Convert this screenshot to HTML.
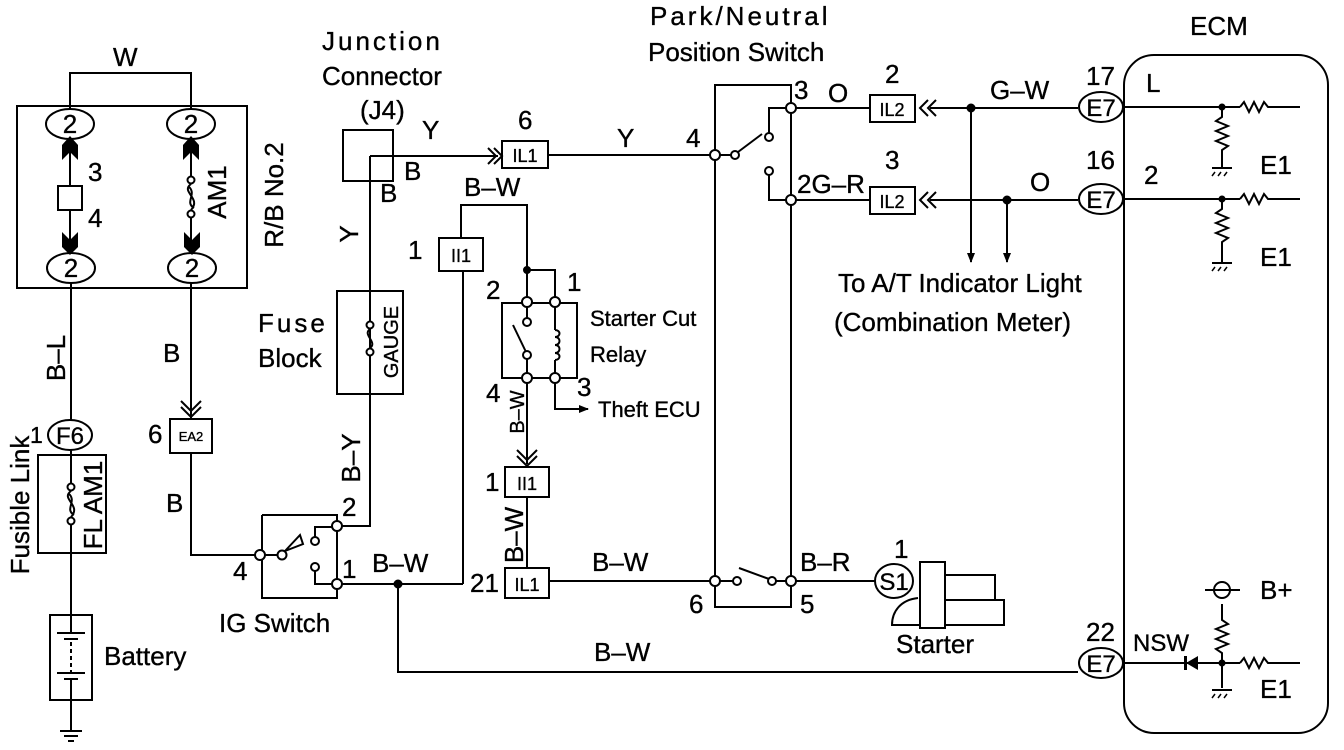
<!DOCTYPE html>
<html><head><meta charset="utf-8"><style>
html,body{margin:0;padding:0;background:#fff}
svg{display:block}
text{font-family:"Liberation Sans",sans-serif;fill:#000;stroke:#000;stroke-width:0.35}
</style></head><body>
<svg width="1344" height="750" viewBox="0 0 1344 750" xmlns="http://www.w3.org/2000/svg">
<defs>
<marker id="ah" markerWidth="10" markerHeight="10" refX="9" refY="5" orient="auto" markerUnits="userSpaceOnUse"><path d="M0,1 L10,5 L0,9 Z" fill="#000"/></marker>
</defs>
<g fill="none" stroke="#000" stroke-width="2">
<rect x="17" y="106" width="230" height="182"/>
<polyline points="70,109 70,73 191,73 191,109"/>
<ellipse cx="70" cy="124" rx="24" ry="15"/>
<ellipse cx="191" cy="124" rx="24" ry="15"/>
<ellipse cx="71" cy="268" rx="24" ry="15"/>
<ellipse cx="192" cy="268" rx="24" ry="15"/>
<line x1="70" y1="139" x2="70" y2="186"/><line x1="70" y1="210" x2="70" y2="253"/>
<rect x="58" y="186" width="24" height="24"/>
<line x1="191" y1="139" x2="191" y2="176"/><line x1="191" y1="218" x2="191" y2="253"/>
<circle cx="191" cy="180" r="3.5" fill="#fff"/><circle cx="191" cy="214" r="3.5" fill="#fff"/>
<path d="M191,184 C180,192 202,198 191,210 M188,186 C198,194 184,202 194,208"/>
<line x1="71" y1="283" x2="71" y2="420"/>
<ellipse cx="70" cy="435" rx="22" ry="15"/>
<rect x="38" y="455" width="68" height="98"/>
<line x1="71" y1="450" x2="71" y2="483"/><line x1="71" y1="525" x2="71" y2="615"/>
<circle cx="71" cy="487" r="3.5" fill="#fff"/><circle cx="71" cy="521" r="3.5" fill="#fff"/>
<path d="M71,491 C60,499 82,505 71,517 M68,493 C78,501 64,509 74,515"/>
<rect x="50" y="615" width="42" height="85"/>
<line x1="71" y1="615" x2="71" y2="633"/>
<line x1="57" y1="633" x2="85" y2="633"/><line x1="64" y1="639" x2="78" y2="639"/>
<line x1="71" y1="642" x2="71" y2="672" stroke-dasharray="4,3"/>
<line x1="57" y1="673" x2="85" y2="673"/><line x1="64" y1="679" x2="78" y2="679"/>
<line x1="71" y1="679" x2="71" y2="730"/>
<line x1="60" y1="731" x2="82" y2="731"/><line x1="64" y1="736" x2="78" y2="736"/><line x1="68" y1="741" x2="74" y2="741"/>
<line x1="191" y1="283" x2="191" y2="418"/>
<polyline points="181,401 191,411 201,401"/><polyline points="181,407 191,417 201,407"/>
<rect x="170" y="419" width="42" height="34"/>
<polyline points="191,453 191,555 260,555"/>
<polyline points="262,526 262,598 337,598 337,584"/>
<line x1="262" y1="515" x2="262" y2="550"/>
<polyline points="262,515 337,515 337,526"/>
<circle cx="260" cy="555" r="5" fill="#fff"/>
<circle cx="282" cy="555" r="4.5" fill="#fff"/>
<line x1="265" y1="555" x2="278" y2="555"/>
<path d="M285,551 L300,535 L303,544 Z"/>
<circle cx="315" cy="541" r="4" fill="#fff"/><circle cx="315" cy="567" r="4" fill="#fff"/>
<polyline points="315,537 315,527 332,527"/>
<polyline points="315,571 315,584 332,584"/>
<line x1="337" y1="531" x2="337" y2="579"/>
<circle cx="337" cy="526" r="5" fill="#fff"/><circle cx="337" cy="584" r="5" fill="#fff"/>
<polyline points="342,526 370,526 370,156"/>
<rect x="337" y="291" width="66" height="103"/>
<circle cx="370" cy="325" r="3.5" fill="#fff"/><circle cx="370" cy="352" r="3.5" fill="#fff"/>
<path d="M370,329 C362,335 378,342 370,348"/>
<rect x="343" y="130" width="50" height="51"/>
<line x1="370" y1="156" x2="498" y2="156"/>
<polyline points="488,148 496,156 488,164"/><polyline points="494,148 502,156 494,164"/>
<rect x="502" y="141" width="46" height="27"/>
<line x1="548" y1="155" x2="710" y2="155"/>
<line x1="342" y1="584" x2="463" y2="584"/>
<line x1="463" y1="584" x2="463" y2="271"/>
<rect x="439" y="238" width="44" height="33"/>
<polyline points="461,238 461,205 527,205 527,298"/>
<polyline points="527,270 555,270 555,298"/>
<circle cx="527" cy="270" r="3" fill="#000"/>
<polyline points="398,584 398,672 1078,672"/>
<circle cx="398" cy="584" r="3.5" fill="#000"/>
<polyline points="522,303 502,303 502,378 522,378"/>
<polyline points="532,303 550,303"/><polyline points="560,303 577,303 577,378 560,378"/><line x1="532" y1="378" x2="550" y2="378"/>
<circle cx="527" cy="302" r="5" fill="#fff"/><circle cx="555" cy="302" r="5" fill="#fff"/>
<circle cx="527" cy="378" r="5" fill="#fff"/><circle cx="555" cy="378" r="5" fill="#fff"/>
<line x1="527" y1="307" x2="527" y2="318"/><circle cx="527" cy="322" r="4" fill="#fff"/>
<line x1="527" y1="373" x2="527" y2="359"/><circle cx="527" cy="355" r="4" fill="#fff"/>
<line x1="513" y1="325" x2="526" y2="352"/>
<line x1="555" y1="307" x2="555" y2="330"/><line x1="555" y1="360" x2="555" y2="373"/>
<path d="M555,330 c6,0 6,7 0,7 c6,0 6,8 0,8 c6,0 6,8 0,8 c6,0 6,7 0,7"/>
<polyline points="555,383 555,409 588,409" marker-end="url(#ah)"/>
<line x1="527" y1="383" x2="527" y2="464"/>
<polyline points="517,450 527,460 537,450"/><polyline points="517,456 527,466 537,456"/>
<rect x="505" y="467" width="44" height="30"/>
<line x1="527" y1="497" x2="527" y2="568"/>
<rect x="505" y="568" width="44" height="30"/>
<line x1="549" y1="581" x2="710" y2="581"/>
<polyline points="715,160 715,85 791,85 791,103"/>
<line x1="715" y1="150" x2="715" y2="576"/>
<polyline points="715,586 715,607 791,607 791,586"/>
<line x1="791" y1="113" x2="791" y2="195"/><line x1="791" y1="205" x2="791" y2="576"/>
<circle cx="715" cy="155" r="5" fill="#fff"/>
<circle cx="735" cy="155" r="4" fill="#fff"/>
<line x1="720" y1="155" x2="731" y2="155"/>
<line x1="738" y1="152" x2="762" y2="134"/>
<circle cx="769" cy="137" r="4" fill="#fff"/>
<polyline points="769,133 769,108 786,108"/>
<circle cx="791" cy="108" r="5" fill="#fff"/>
<circle cx="769" cy="171" r="4" fill="#fff"/>
<polyline points="769,175 769,200 786,200"/>
<circle cx="791" cy="200" r="5" fill="#fff"/>
<circle cx="715" cy="581" r="5" fill="#fff"/><circle cx="737" cy="581" r="4" fill="#fff"/>
<circle cx="772" cy="581" r="4" fill="#fff"/><circle cx="791" cy="581" r="5" fill="#fff"/>
<line x1="720" y1="581" x2="733" y2="581"/><line x1="776" y1="581" x2="786" y2="581"/>
<line x1="739" y1="568" x2="769" y2="579"/>
<line x1="796" y1="581" x2="875" y2="581"/>
<ellipse cx="894" cy="581" rx="19" ry="17"/>
<rect x="920" y="562" width="25" height="66"/>
<polyline points="945,575 995,575 995,600"/>
<polyline points="945,600 1004,600 1004,625 945,625"/>
<path d="M918,598 C900,600 892,612 892,625 L920,625"/>
<line x1="796" y1="108" x2="870" y2="108"/>
<rect x="870" y="95" width="45" height="27"/>
<polyline points="928,100 920,108 928,116"/><polyline points="936,100 928,108 936,116"/>
<line x1="930" y1="108" x2="1078" y2="108"/>
<line x1="796" y1="200" x2="870" y2="200"/>
<rect x="870" y="187" width="45" height="27"/>
<polyline points="928,192 920,200 928,208"/><polyline points="936,192 928,200 936,208"/>
<line x1="930" y1="200" x2="1078" y2="200"/>
<circle cx="971" cy="108" r="3.5" fill="#000"/><circle cx="1007" cy="200" r="3.5" fill="#000"/>
<line x1="971" y1="108" x2="971" y2="262" marker-end="url(#ah)"/>
<line x1="1007" y1="200" x2="1007" y2="262" marker-end="url(#ah)"/>
<ellipse cx="1101" cy="107" rx="22" ry="15"/>
<ellipse cx="1101" cy="199" rx="22" ry="15"/>
<ellipse cx="1101" cy="663" rx="22" ry="15"/>
<rect x="1124" y="55" width="204" height="678" rx="30"/>
<line x1="1123" y1="107" x2="1240" y2="107"/>
<path d="M1240,107 l4,-5 l5,10 l5,-10 l5,10 l5,-10 l4,5 h32"/>
<path d="M1222,107 v10 l-6,4 l12,5 l-12,5 l12,5 l-12,5 l12,5 l-6,4 v17"/>
<line x1="1212" y1="168" x2="1232" y2="168"/>
<line x1="1123" y1="199" x2="1240" y2="199"/>
<path d="M1240,199 l4,-5 l5,10 l5,-10 l5,10 l5,-10 l4,5 h32"/>
<path d="M1222,199 v10 l-6,4 l12,5 l-12,5 l12,5 l-12,5 l12,5 l-6,4 v20"/>
<line x1="1212" y1="263" x2="1232" y2="263"/>
<line x1="1123" y1="663" x2="1240" y2="663"/>
<path d="M1240,663 l4,-5 l5,10 l5,-10 l5,10 l5,-10 l4,5 h32"/>
<path d="M1222,663 v25"/>
<line x1="1212" y1="690" x2="1232" y2="690"/>
<path d="M1222,663 v-10 l-6,-4 l12,-5 l-12,-5 l12,-5 l-12,-5 l12,-5 l-6,-4 v-16"/>
<circle cx="1222" cy="590" r="8"/>
<line x1="1205" y1="590" x2="1240" y2="590"/>
</g>
<g fill="#000">
<circle cx="1222" cy="107" r="3.5"/><circle cx="1222" cy="199" r="3.5"/><circle cx="1222" cy="663" r="3.5"/>
<path d="M1186,663 L1198,656 L1198,670 Z"/><rect x="1184" y="656" width="3" height="14"/>
<path d="M62,145 L70,136 L78,145 L78,160 L70,152 L62,160 Z"/>
<path d="M183,145 L191,136 L199,145 L199,160 L191,152 L183,160 Z"/>
<path d="M62,232 L70,240 L78,232 L78,247 L70,255 L62,247 Z"/>
<path d="M184,232 L192,240 L200,232 L200,247 L192,255 L184,247 Z"/>
</g>
<g stroke="#000" stroke-width="1.5">
<line x1="1215" y1="172" x2="1212" y2="176"/><line x1="1221" y1="172" x2="1218" y2="176"/><line x1="1227" y1="172" x2="1224" y2="176"/>
<line x1="1215" y1="267" x2="1212" y2="271"/><line x1="1221" y1="267" x2="1218" y2="271"/><line x1="1227" y1="267" x2="1224" y2="271"/>
<line x1="1215" y1="694" x2="1212" y2="698"/><line x1="1221" y1="694" x2="1218" y2="698"/><line x1="1227" y1="694" x2="1224" y2="698"/>
</g>
<g font-size="26">
<text x="70" y="133" text-anchor="middle">2</text>
<text x="191" y="133" text-anchor="middle">2</text>
<text x="71" y="277" text-anchor="middle">2</text>
<text x="192" y="277" text-anchor="middle">2</text>
<text x="113" y="66">W</text>
<text x="88" y="181">3</text><text x="88" y="227">4</text>
<text x="226" y="192" transform="rotate(-90 226 192)" text-anchor="middle">AM1</text>
<text x="283" y="195" transform="rotate(-90 283 195)" text-anchor="middle">R/B No.2</text>
<text x="65" y="358" transform="rotate(-90 65 358)" text-anchor="middle">B–L</text>
<text x="163" y="362">B</text>
<text x="30" y="443" font-size="23">1</text>
<text x="70" y="444" text-anchor="middle" font-size="24">F6</text>
<text x="102" y="505" transform="rotate(-90 102 505)" text-anchor="middle">FL AM1</text>
<text x="29" y="505" transform="rotate(-90 29 505)" text-anchor="middle">Fusible Link</text>
<text x="104" y="665">Battery</text>
<text x="148" y="443">6</text>
<text x="191" y="441" text-anchor="middle" font-size="13">EA2</text>
<text x="166" y="512">B</text>
<text x="233" y="580">4</text><text x="342" y="516">2</text><text x="342" y="578">1</text>
<text x="219" y="632">IG Switch</text>
<text x="360" y="458" transform="rotate(-90 360 458)" text-anchor="middle">B–Y</text>
<text x="258" y="332" letter-spacing="3">Fuse</text>
<text x="258" y="367">Block</text>
<text x="398" y="342" transform="rotate(-90 398 342)" text-anchor="middle" font-size="20">GAUGE</text>
<text x="322" y="50" letter-spacing="3">Junction</text>
<text x="322" y="85">Connector</text>
<text x="360" y="119">(J4)</text>
<text x="422" y="139">Y</text>
<text x="404" y="180">B</text><text x="380" y="202">B</text>
<text x="358" y="234" transform="rotate(-90 358 234)" text-anchor="middle">Y</text>
<text x="518" y="129">6</text>
<text x="525" y="162" text-anchor="middle" font-size="18">IL1</text>
<text x="617" y="147">Y</text>
<text x="686" y="147">4</text>
<text x="464" y="196">B–W</text>
<text x="408" y="259">1</text>
<text x="461" y="262" text-anchor="middle" font-size="18">II1</text>
<text x="486" y="299">2</text><text x="567" y="291">1</text>
<text x="590" y="326" font-size="22">Starter Cut</text>
<text x="590" y="362" font-size="22">Relay</text>
<text x="486" y="402">4</text><text x="577" y="396">3</text>
<text x="598" y="417" font-size="22">Theft ECU</text>
<text x="524" y="412" transform="rotate(-90 524 412)" text-anchor="middle" font-size="20">B–W</text>
<text x="485" y="491">1</text>
<text x="527" y="490" text-anchor="middle" font-size="18">II1</text>
<text x="523" y="535" transform="rotate(-90 523 535)" text-anchor="middle">B–W</text>
<text x="470" y="592">21</text>
<text x="527" y="591" text-anchor="middle" font-size="18">IL1</text>
<text x="592" y="571">B–W</text>
<text x="372" y="572">B–W</text>
<text x="594" y="661">B–W</text>
<text x="650" y="25" letter-spacing="3">Park/Neutral</text>
<text x="648" y="61">Position Switch</text>
<text x="794" y="99">3</text><text x="828" y="102">O</text>
<text x="797" y="193">2G–R</text>
<text x="689" y="613">6</text><text x="800" y="613">5</text>
<text x="800" y="571">B–R</text>
<text x="894" y="558">1</text>
<text x="894" y="590" text-anchor="middle" font-size="24">S1</text>
<text x="896" y="653">Starter</text>
<text x="885" y="83">2</text><text x="885" y="169">3</text>
<text x="892" y="116" text-anchor="middle" font-size="18">IL2</text>
<text x="892" y="208" text-anchor="middle" font-size="18">IL2</text>
<text x="990" y="99">G–W</text>
<text x="1030" y="191">O</text>
<text x="838" y="292">To A/T Indicator Light</text>
<text x="834" y="331">(Combination Meter)</text>
<text x="1086" y="85">17</text><text x="1086" y="169">16</text><text x="1086" y="641">22</text>
<text x="1101" y="116" text-anchor="middle" font-size="24">E7</text>
<text x="1101" y="208" text-anchor="middle" font-size="24">E7</text>
<text x="1101" y="672" text-anchor="middle" font-size="24">E7</text>
<text x="1190" y="35">ECM</text>
<text x="1146" y="92">L</text><text x="1144" y="184">2</text>
<text x="1260" y="174">E1</text><text x="1260" y="266">E1</text>
<text x="1260" y="599">B+</text>
<text x="1133" y="651" font-size="24">NSW</text>
<text x="1260" y="698">E1</text>
</g>
</svg>
</body></html>
